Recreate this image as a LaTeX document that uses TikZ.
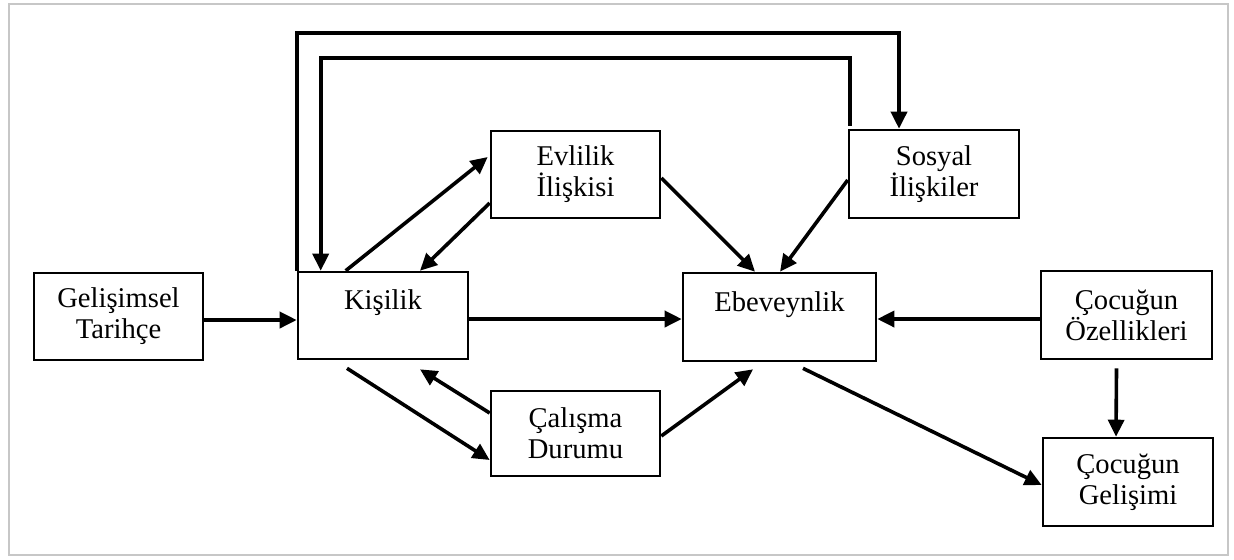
\documentclass[tikz,border=0pt]{standalone}
\usepackage{fontspec}
\setmainfont{Liberation Serif}
\usetikzlibrary{arrows.meta,calc}
\begin{document}
\begin{tikzpicture}[x=0.5pt,y=-0.5pt,
  box/.style={draw=black,line width=1.3pt,inner sep=0pt,align=center,
    font=\fontsize{14.3pt}{15.5pt}\selectfont},
  arr/.style={line width=1.8pt,-{Triangle[length=8.5pt,width=8pt]}},
  plain/.style={line width=1.8pt}]
\useasboundingbox (0,0) rectangle (1234,559);
\draw[line width=1pt,draw=black!22] (9,4) rectangle (1228,555);

\node[box,minimum width=84.5pt,minimum height=43.5pt] (G) at (118.5,316.5) {Gelişimsel\\Tarihçe};
\node[box,minimum width=85pt,minimum height=43.5pt] (K) at (383,315.5) {Kişilik\\\mbox{}};
\node[box,minimum width=84.5pt,minimum height=43.5pt] (Ev) at (575.5,174.5) {Evlilik\\İlişkisi};
\node[box,minimum width=85pt,minimum height=44pt] (S) at (934,174) {Sosyal\\İlişkiler};
\node[box,minimum width=96.5pt,minimum height=44pt] (Eb) at (779.5,317) {Ebeveynlik\\\mbox{}};
\node[box,minimum width=85.5pt,minimum height=44pt] (CO) at (1126.5,315) {Çocuğun\\Özellikleri};
\node[box,minimum width=84.5pt,minimum height=42.5pt] (Ca) at (575.5,433.5) {Çalışma\\Durumu};
\node[box,minimum width=85pt,minimum height=44pt] (CG) at (1128,482) {Çocuğun\\Gelişimi};

% horizontal
\draw[arr] ($(G.east)+(0,3.5)$) -- ($(K.west)+(0,4.5)$);
\draw[arr] ($(K.east)+(0,3.5)$) -- ($(Eb.west)+(0,2)$);
\draw[arr] ($(CO.west)+(0,4)$) -- ($(Eb.east)+(0,2)$);
\draw[arr] ($(CO.south)+(-10,8)$) -- ($(CG.north)+(-12,0)$);
\draw[arr] ($(Eb.south)+(23.5,6)$) -- ($(CG.west)+(0,3)$);
% Calisma
\draw[arr] ($(K.south)+(-36,8)$) -- ($(Ca.west)+(0,26.5)$);
\draw[arr] ($(Ca.west)+(0,-20.5)$) -- ($(K.south)+(37,9)$);
\draw[arr] ($(Ca.east)+(0,2.5)$) -- ($(Eb.south)+(-26.5,7)$);
% Evlilik
\draw[arr] ($(K.north west)+(49,0)$) -- ($(Ev.west)+(-2,-17.5)$);
\draw[arr] ($(Ev.west)+(0,28.5)$) -- ($(K.north)+(37,0)$);
\draw[arr] ($(Ev.east)+(0,3.5)$) -- ($(Eb.north)+(-24.5,0)$);
% Sosyal
\draw[arr] ($(S.west)+(0,6)$) -- ($(Eb.north)+(0.5,0)$);
% loops
\draw[arr] (K.north west) -- ($(K.north west)+(0,-238)$) -| ($(S.north)+(-35,0)$);
\draw[arr] ($(S.north west)+(2,-3)$) -- ($(S.north west)+(2,-71)$) -| ($(K.north west)+(24,0)$);
\end{tikzpicture}
\end{document}
